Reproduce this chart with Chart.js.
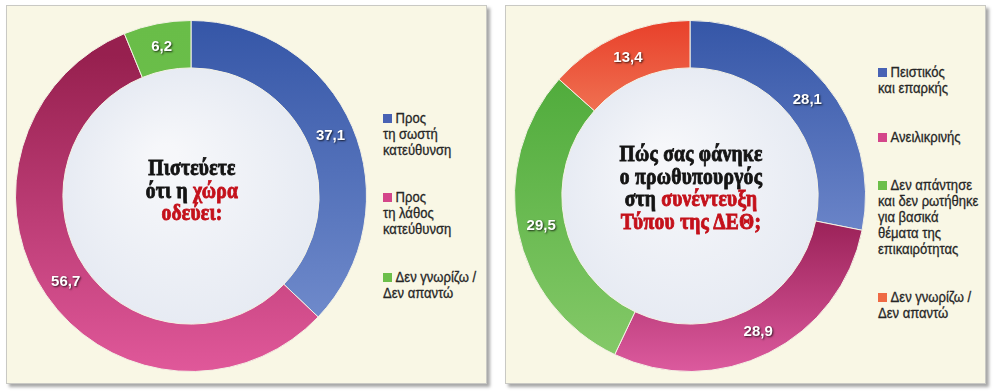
<!DOCTYPE html>
<html>
<head>
<meta charset="utf-8">
<script src="https://cdn.jsdelivr.net/npm/chart.js@4"></script>
<style>
  body { margin: 0; background: #fff; width: 1001px; height: 391px; position: relative; overflow: hidden; }
  .panel { position: absolute; top: 5px; width: 479px; height: 377px; background: #f9f7e5;
    border: 1px solid #c9c9c4; box-shadow: 3px 3px 3px rgba(0,0,0,0.35); }
  .panel canvas { position: absolute; left: 8px; top: 14px; }
  .center { position: absolute; text-align: center; font-family: "Liberation Serif", "Times New Roman", serif;
    font-weight: bold; font-size: 23px; line-height: 22.5px; color: #141414; -webkit-text-stroke: 0.9px #141414;
    transform: scaleX(0.85); letter-spacing: 0.3px; }
  .center .red { color: #c4111b; -webkit-text-stroke: 0.9px #c4111b; }
  .legend { position: absolute; font-family: "Liberation Sans", Arial, sans-serif; font-size: 14.5px;
    line-height: 15.8px; color: #262626; -webkit-text-stroke: 0.3px #262626; white-space: nowrap;
    transform: scaleX(0.9); transform-origin: left top; }
  .legend div { margin: 0; }
  .legend .box { display: inline-block; width: 10px; height: 9px; margin-right: 4px; }
</style>
</head>
<body>
<div class="panel" id="p1" style="left:6px">
  <canvas id="chart1" width="352" height="352"></canvas>
  <div class="center" style="left:80px; top:151px; width:210px">Πιστεύετε<br>ότι η <span class="red">χώρα<br>οδεύει:</span></div>
  <div class="legend" id="legend1" style="left:376px; top:105px"></div>
</div>
<div class="panel" id="p2" style="left:505px">
  <canvas id="chart2" width="352" height="352"></canvas>
  <div class="center" style="left:60px; top:137px; width:250px">Πώς σας φάνηκε<br>ο πρωθυπουργός<br>στη <span class="red">συνέντευξη<br>Τύπου της ΔΕΘ;</span></div>
  <div class="legend" id="legend2" style="left:372px; top:59px"></div>
</div>
<script>
// Δεδομένα γραφήματος 1
const labels1 = [['Προς', 'τη σωστή', 'κατεύθυνση'], ['Προς', 'τη λάθος', 'κατεύθυνση'], ['Δεν γνωρίζω /', 'Δεν απαντώ']];
const values1 = [37.1, 56.7, 6.2];

// Δεδομένα γραφήματος 2
const labels2 = [['Πειστικός', 'και επαρκής'], ['Ανειλικρινής'], ['Δεν απάντησε', 'και δεν ρωτήθηκε', 'για βασικά', 'θέματα της', 'επικαιρότητας'], ['Δεν γνωρίζω /', 'Δεν απαντώ']];
const values2 = [28.1, 28.9, 29.5, 13.4];

// Χρώματα: [offset πάνω, χρώμα πάνω, offset κάτω, χρώμα κάτω]
const colors1 = [
  [0.0, '#3556a7', 0.85, '#6f8acb'],
  [0.1, '#97204f', 1.0, '#e0589a'],
  [0.0, '#69bd48', 1.0, '#6fc14f']
];
const colors2 = [
  [0.0, '#3556a7', 0.6, '#6a84c8'],
  [0.55, '#981f55', 1.0, '#dc5a9e'],
  [0.15, '#4fab3b', 0.95, '#84c968'],
  [0.0, '#e8402a', 0.35, '#f2815f']
];
const swatch1 = ['#4862b4', '#d4468a', '#6cbf4a'];
const swatch2 = ['#4862b4', '#d4468a', '#6cbf4a', '#ef6a44'];

// Tạo gradient cho từng phần
var makeGradient = (chart, c) => {
  let area = chart.chartArea;
  if (!area) return c[1];
  let g = chart.ctx.createLinearGradient(0, area.top, 0, area.bottom);
  g.addColorStop(c[0], c[1]);
  g.addColorStop(c[2], c[3]);
  return g;
}

// Vẽ đĩa bên trong và nhãn giá trị
const ringPlugin = {
  id: 'ring',
  beforeDatasetsDraw(chart) {
    let arc = chart.getDatasetMeta(0).data[0];
    if (!arc) return;
    let ctx = chart.ctx;
    let r = arc.innerRadius;
    ctx.save();
    let g = ctx.createRadialGradient(arc.x - r * 0.2, arc.y - r * 0.3, r * 0.1, arc.x, arc.y, r);
    g.addColorStop(0, '#f6f7fa');
    g.addColorStop(1, '#e7ebf3');
    ctx.beginPath();
    ctx.arc(arc.x, arc.y, r, 0, Math.PI * 2);
    ctx.fillStyle = g;
    ctx.fill();
    ctx.restore();
  },
  afterDatasetsDraw(chart) {
    let ctx = chart.ctx;
    let meta = chart.getDatasetMeta(0);
    let values = chart.data.datasets[0].data;
    ctx.save();
    ctx.font = 'bold 15px "Liberation Sans", Arial, sans-serif';
    ctx.textAlign = 'center';
    ctx.textBaseline = 'middle';
    ctx.fillStyle = '#ffffff';
    ctx.shadowColor = 'rgba(0,0,0,0.75)';
    ctx.shadowBlur = 2;
    ctx.shadowOffsetX = 1;
    ctx.shadowOffsetY = 1;
    for (let i = 0; i < meta.data.length; i++) {
      let p = meta.data[i].getCenterPoint();
      ctx.fillText(values[i].toFixed(1).replace('.', ','), p.x, p.y);
    }
    ctx.restore();
  }
}

var drawDoughnut = (id, labels, values, colors) => {
  return new Chart(document.getElementById(id), {
    type: 'doughnut',
    data: {
      labels: labels.map(l => l.join(' ')),
      datasets: [{
        data: values,
        backgroundColor: (context) => makeGradient(context.chart, colors[context.dataIndex]),
        borderColor: '#f3f1e4',
        borderWidth: 1
      }]
    },
    options: {
      responsive: false,
      animation: false,
      cutout: '73%',
      layout: { padding: 0 },
      plugins: { legend: { display: false }, tooltip: { enabled: false } }
    },
    plugins: [ringPlugin]
  });
}

// Chú thích HTML
var drawLegend = (id, labels, swatches, gaps) => {
  let node = document.getElementById(id);
  let html = '';
  for (let i = 0; i < labels.length; i++) {
    html += `<div style="margin-bottom:${gaps}px"><span class="box" style="background:${swatches[i]}"></span>${labels[i].join('<br>')}</div>`;
  }
  node.innerHTML = html;
}

drawDoughnut('chart1', labels1, values1, colors1);
drawDoughnut('chart2', labels2, values2, colors2);
drawLegend('legend1', labels1, swatch1, 32);
drawLegend('legend2', labels2, swatch2, 33);
</script>
</body>
</html>
